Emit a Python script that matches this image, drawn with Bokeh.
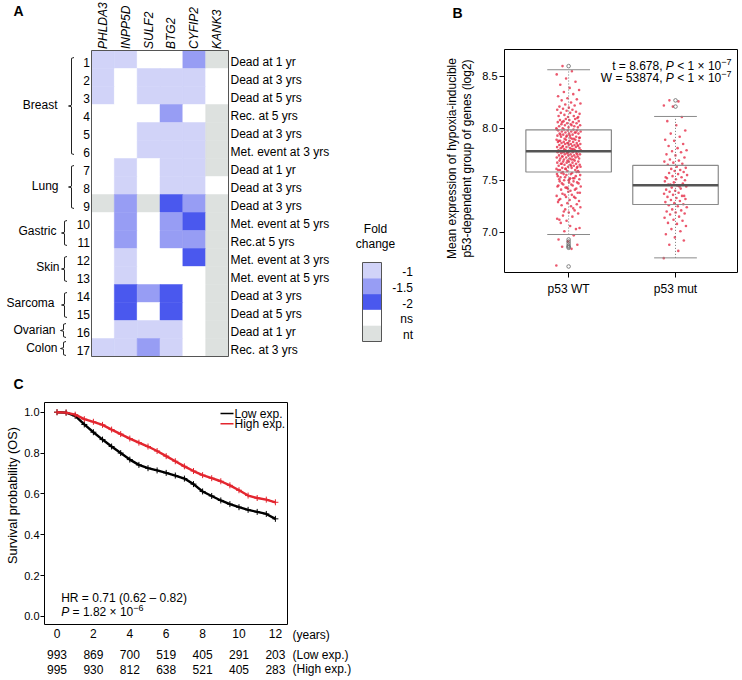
import math
from bokeh.plotting import figure
from bokeh.models import Range1d, Label, FixedTicker, NumeralTickFormatter, LinearAxis
from bokeh.layouts import row, column
from bokeh.embed import file_html
from bokeh.resources import INLINE
from bokeh.core.properties import value

FONT = "Liberation Sans"

# ---------------- Panel A data ----------------
genes = ["PHLDA3", "INPP5D", "SULF2", "BTG2", "CYFIP2", "KANK3"]
row_ids = ["1", "2", "3", "4", "5", "6", "7", "8", "9", "10", "11", "12", "13", "14", "15", "16", "17"]
outcomes = ["Dead at 1 yr", "Dead at 3 yrs", "Dead at 5 yrs", "Rec. at 5 yrs", "Dead at 3 yrs",
            "Met. event at 3 yrs", "Dead at 1 yr", "Dead at 3 yrs", "Dead at 3 yrs",
            "Met. event at 5 yrs", "Rec.at 5 yrs", "Met. event at 3 yrs", "Met. event at 5 yrs",
            "Dead at 3 yrs", "Dead at 5 yrs", "Dead at 1 yr", "Rec. at 3 yrs"]
cancer_groups = ["Breast", "Lung", "Gastric", "Skin", "Sarcoma", "Ovarian", "Colon"]
group_sizes = [6, 3, 2, 2, 2, 1, 1]
fold_change = [
    ["-1", "-1", "ns", "ns", "-1.5", "nt"],
    ["-1", "ns", "-1", "-1", "-1", "ns"],
    ["-1", "ns", "-1", "-1", "-1", "ns"],
    ["ns", "ns", "ns", "-1.5", "ns", "nt"],
    ["ns", "ns", "-1", "-1", "-1", "nt"],
    ["ns", "ns", "-1", "-1", "-1", "nt"],
    ["ns", "-1", "ns", "-1", "-1", "nt"],
    ["ns", "-1", "ns", "-1", "-1", "ns"],
    ["nt", "-1.5", "nt", "-2", "-1.5", "nt"],
    ["ns", "-1.5", "ns", "-1.5", "-2", "nt"],
    ["ns", "-1.5", "ns", "-1.5", "-1.5", "nt"],
    ["ns", "-1", "ns", "ns", "-2", "nt"],
    ["ns", "-1", "ns", "ns", "ns", "nt"],
    ["ns", "-2", "-1.5", "-2", "ns", "nt"],
    ["ns", "-2", "ns", "-2", "ns", "nt"],
    ["ns", "-1", "-1", "-1", "ns", "nt"],
    ["-1", "-1", "-1.5", "-1", "ns", "nt"],
]
fc_levels = ["-1", "-1.5", "-2", "ns", "nt"]
fc_colors = ["#d1d3f8", "#979df4", "#4a58ee", "#ffffff", "#dde1df"]

# ---------------- Panel B data ----------------
box_groups = ["p53 WT", "p53 mut"]
box_pos = [1, 2]
whisk_lo = [6.978, 6.753]
box_q1 = [7.580, 7.267]
box_med = [7.780, 7.453]
box_q3 = [7.986, 7.643]
whisk_hi = [8.565, 8.115]
wt_outliers = [8.60, 6.93, 6.91, 6.89, 6.87, 6.86, 6.85, 6.67]
mut_outliers = [8.27, 8.21]
wt_values = [
    6.68, 6.84, 6.86, 6.88, 6.91, 6.93, 6.97,
    7.01, 7.04, 7.06, 7.09, 7.03,
    7.11, 7.13, 7.15, 7.16, 7.18, 7.19, 7.12,
    7.21, 7.22, 7.24, 7.25, 7.26, 7.27, 7.28, 7.29, 7.23, 7.20,
    7.30, 7.31, 7.32, 7.33, 7.34, 7.35, 7.36, 7.37, 7.38, 7.39, 7.31, 7.34, 7.36, 7.38,
    7.40, 7.41, 7.42, 7.43, 7.44, 7.45, 7.46, 7.47, 7.48, 7.49, 7.41, 7.43, 7.44, 7.46,
    7.47, 7.48, 7.42, 7.45, 7.49,
    7.50, 7.51, 7.52, 7.53, 7.54, 7.55, 7.56, 7.57, 7.58, 7.59, 7.50, 7.51, 7.52, 7.53,
    7.55, 7.56, 7.57, 7.58, 7.59, 7.54, 7.52, 7.56, 7.58, 7.51,
    7.60, 7.60, 7.61, 7.61, 7.62, 7.62, 7.63, 7.63, 7.64, 7.64, 7.65, 7.65, 7.65, 7.66,
    7.66, 7.67, 7.67, 7.67, 7.68, 7.68, 7.68, 7.69, 7.69, 7.61, 7.63, 7.64, 7.66, 7.62,
    7.69, 7.60,
    7.70, 7.70, 7.71, 7.71, 7.71, 7.72, 7.72, 7.72, 7.73, 7.73, 7.73, 7.74, 7.74, 7.74,
    7.75, 7.75, 7.75, 7.76, 7.76, 7.76, 7.77, 7.77, 7.77, 7.78, 7.78, 7.78, 7.79, 7.79,
    7.79, 7.70, 7.73, 7.75, 7.77, 7.79,
    7.80, 7.80, 7.81, 7.81, 7.81, 7.82, 7.82, 7.82, 7.83, 7.83, 7.83, 7.84, 7.84, 7.84,
    7.85, 7.85, 7.85, 7.86, 7.86, 7.86, 7.87, 7.87, 7.87, 7.88, 7.88, 7.88, 7.89, 7.89,
    7.89, 7.80, 7.82, 7.84, 7.86, 7.88,
    7.90, 7.90, 7.91, 7.91, 7.92, 7.92, 7.93, 7.93, 7.94, 7.94, 7.95, 7.95, 7.95, 7.96,
    7.96, 7.97, 7.97, 7.97, 7.98, 7.98, 7.98, 7.99, 7.99, 7.91, 7.93, 7.94, 7.96, 7.92,
    7.99, 7.90,
    8.00, 8.01, 8.01, 8.02, 8.02, 8.03, 8.03, 8.04, 8.04, 8.05, 8.05, 8.06, 8.06, 8.07,
    8.07, 8.08, 8.08, 8.09, 8.09, 8.00, 8.03, 8.06,
    8.10, 8.11, 8.12, 8.12, 8.13, 8.14, 8.15, 8.15, 8.16, 8.17, 8.18, 8.18, 8.19, 8.11,
    8.20, 8.21, 8.22, 8.23, 8.24, 8.25, 8.27, 8.28, 8.29,
    8.31, 8.33, 8.35, 8.37, 8.39,
    8.42, 8.45, 8.48,
    8.52, 8.55, 8.60,
]
mut_values = [
    6.75, 6.82, 6.88, 6.92, 6.95, 6.98,
    7.01, 7.03, 7.06, 7.08, 7.09,
    7.11, 7.12, 7.14, 7.15, 7.17, 7.18, 7.19,
    7.20, 7.21, 7.22, 7.24, 7.25, 7.26, 7.27, 7.28, 7.29,
    7.30, 7.31, 7.32, 7.33, 7.34, 7.35, 7.36, 7.37, 7.38, 7.39, 7.35,
    7.40, 7.41, 7.42, 7.43, 7.44, 7.45, 7.46, 7.47, 7.48, 7.49, 7.44, 7.46,
    7.50, 7.51, 7.52, 7.53, 7.54, 7.55, 7.56, 7.57, 7.58, 7.59, 7.53,
    7.60, 7.61, 7.62, 7.63, 7.65, 7.66, 7.67, 7.68, 7.69,
    7.70, 7.72, 7.74, 7.75, 7.77, 7.78, 7.79,
    7.81, 7.83, 7.85, 7.88, 7.89,
    7.92, 7.95, 7.98,
    8.03, 8.07, 8.11,
    8.21, 8.22, 8.26, 8.27,
]
b_ticks = [7.0, 7.5, 8.0, 8.5]

# ---------------- Panel C data ----------------
km_years = [0.0, 0.5, 1.0, 1.5, 2.0, 2.5, 3.0, 3.5, 4.0, 4.5, 5.0, 5.5, 6.0,
            6.5, 7.0, 7.5, 8.0, 8.5, 9.0, 9.5, 10.0, 10.5, 11.0, 11.5, 12.0]
km_low = [1.000, 0.998, 0.982, 0.940, 0.902, 0.866, 0.832, 0.800, 0.768, 0.742, 0.726,
          0.715, 0.703, 0.690, 0.675, 0.648, 0.612, 0.590, 0.568, 0.550, 0.535, 0.522,
          0.512, 0.502, 0.478]
km_high = [1.000, 0.998, 0.988, 0.966, 0.953, 0.938, 0.915, 0.893, 0.871, 0.851, 0.832,
           0.810, 0.785, 0.760, 0.735, 0.712, 0.692, 0.677, 0.662, 0.642, 0.618, 0.592,
           0.580, 0.572, 0.559]
risk_years = [0, 2, 4, 6, 8, 10, 12]
risk_low = [993, 869, 700, 519, 405, 291, 203]
risk_high = [995, 930, 812, 638, 521, 405, 283]
series_names = ["Low exp.", "High exp."]
series_colors = ["#000000", "#e3262f"]
c_ticks = [0.0, 0.2, 0.4, 0.6, 0.8, 1.0]

# ---------------- helpers ----------------
AW = {' ': 278, '.': 278, ',': 278, '=': 584, '<': 584, '\u00d7': 584, '\u2212': 584,
      '\u2013': 556, '(': 333, ')': 333, 't': 278, 'W': 944, 'P': 667, 'H': 722, 'R': 722}


def tw(s, size):
    return sum(AW.get(ch, 556) for ch in s) * size / 1000.0


def add_label(p, x, y, text, size="12px", align="left", baseline="middle",
              style="normal", angle=0.0, color="black"):
    p.add_layout(Label(x=x, y=y, text=text, text_font=FONT, text_font_size=size,
                       text_align=align, text_baseline=baseline, text_font_style=style,
                       angle=angle, text_color=color))


def rich(p, conv, pieces, x_px, y_px, align="left"):
    total = sum(tw(t, s) for t, s, _, _ in pieces)
    x = x_px - total if align == "right" else x_px
    for t, s, it, r in pieces:
        lead = len(t) - len(t.lstrip(" "))
        core = t.strip(" ")
        if core:
            X, Y = conv(x + tw(t[:lead], s), y_px - r)
            add_label(p, X, Y, core, size=f"{s}px", style="italic" if it else "normal")
        x += tw(t, s)


def bare_figure(w, h, xr, yr):
    p = figure(width=w, height=h, x_range=xr, y_range=yr, x_axis_type=None,
               y_axis_type=None, toolbar_location=None, output_backend="svg", min_border=0)
    p.outline_line_color = None
    p.xgrid.visible = False
    p.ygrid.visible = False
    return p


def style_axis(axis, size, tick_out, standoff):
    axis.axis_line_color = None
    axis.major_tick_in = 0
    axis.major_tick_out = tick_out
    axis.minor_tick_line_color = None
    axis.major_tick_line_color = "black" if tick_out > 0 else None
    axis.major_label_text_font = FONT
    axis.major_label_text_font_size = size
    axis.major_label_text_color = "black"
    axis.major_label_standoff = standoff


# page layout (reference pixels): A = x 0..420, y 0..366 ; B = x 420..741 ; C = y 366..678
TOP_H, BOT_H = 366, 312
A_W, B_W = 420, 321

# ================= Panel A =================
CW = 137.0 / 6
RH = 18.0
HX0, HY0 = 91.0, 50.0


def ax(px):
    return (px - HX0) / CW - 0.5


def ay(py):
    return (py - HY0) / RH - 0.5


nrow, ncol = len(fold_change), len(genes)
pA = bare_figure(A_W, TOP_H, Range1d(ax(0), ax(A_W)), Range1d(ay(TOP_H), ay(0)))

color_of = dict(zip(fc_levels, fc_colors))
hx, hy, hc = [], [], []
for r, vals in enumerate(fold_change):
    for c, v in enumerate(vals):
        hx.append(c)
        hy.append(r)
        hc.append(color_of[v])
pA.rect(x=hx, y=hy, width=1, height=1, fill_color=hc, line_color=hc, line_width=0.5)
pA.rect(x=[(ncol - 1) / 2], y=[(nrow - 1) / 2], width=ncol, height=nrow,
        fill_color=None, line_color="#555555", line_width=1)

TXT = 2.5 / RH
pA.text(x=list(range(ncol)), y=[ay(48.5)] * ncol, text=genes, angle=math.pi / 2,
        text_align="left", text_baseline="middle", text_font=value(FONT),
        text_font_style="italic", text_font_size="12px", text_color="black")
pA.text(x=[ax(89.5)] * nrow, y=[r + TXT for r in range(nrow)], text=row_ids,
        text_align="right", text_baseline="middle", text_font=value(FONT),
        text_font_size="12px", text_color="black")
pA.text(x=[ax(230)] * nrow, y=[r + TXT for r in range(nrow)], text=outcomes,
        text_align="left", text_baseline="middle", text_font=value(FONT),
        text_font_size="12px", text_color="black")

bracket_px = [71, 71, 64, 64, 64, 63, 63]
glabel_px = [57, 58, 56, 59, 54, 55, 57]
starts = []
acc = 0
for n in group_sizes:
    starts.append(acc)
    acc += n
bxs, bys, gy = [], [], []
for g, (n, s) in enumerate(zip(group_sizes, starts)):
    top = HY0 + s * RH
    bot = HY0 + (s + n) * RH
    it, ib = (7, 4) if n >= 3 else ((8, 3) if n == 2 else (3, 1))
    t, b = top + it, bot - ib
    m = (t + b) / 2
    xv = bracket_px[g]
    px = [xv + 2.5, xv, xv, xv - 3, xv, xv, xv + 2.5]
    py = [t, t + 0.8, m - 0.8, m, m + 0.8, b - 0.8, b]
    bxs.append([ax(v) for v in px])
    bys.append([ay(v) for v in py])
    gy.append(ay((top + bot) / 2 + 0.5))
pA.multi_line(xs=bxs, ys=bys, line_color="#222222", line_width=1)
pA.text(x=[ax(v) for v in glabel_px], y=gy, text=cancer_groups, text_align="right",
        text_baseline="middle", text_font=value(FONT), text_font_size="12px",
        text_color="black")

LT, LH = 262.0, 15.8
lx, lw = ax(371.5), 19.0 / CW
pA.rect(x=[lx] * len(fc_levels), y=[ay(LT + (k + 0.5) * LH) for k in range(len(fc_levels))],
        width=lw, height=LH / RH, fill_color=fc_colors, line_color=None)
pA.rect(x=[lx], y=[ay(LT + len(fc_levels) * LH / 2)], width=lw,
        height=len(fc_levels) * LH / RH, fill_color=None, line_color="#555555", line_width=1)
pA.text(x=[ax(412.5)] * len(fc_levels),
        y=[ay(LT + (k + 0.5) * LH + 1) for k in range(len(fc_levels))], text=fc_levels,
        text_align="right", text_baseline="middle", text_font=value(FONT),
        text_font_size="12px", text_color="black")
add_label(pA, ax(375), ay(228.5), "Fold", align="center")
add_label(pA, ax(375), ay(243.5), "change", align="center")
add_label(pA, ax(13), ay(10), "A", size="14px", style="bold")

# ================= Panel B =================
BX0, BX1, BY0, BY1 = 0.40, 2.58, 6.612, 8.76
BFL, BFR, BFT, BFB = 504.0, 737.0, 49.0, 272.0
BKX = (BX1 - BX0) / (BFR - BFL)
BKY = (BY1 - BY0) / (BFB - BFT)


def bconv(px, py):
    return (BX0 + (px - BFL) * BKX, BY1 - (py - BFT) * BKY)


pB = bare_figure(B_W, TOP_H, Range1d(bconv(A_W, 0)[0], bconv(A_W + B_W, 0)[0]),
                 Range1d(bconv(0, TOP_H)[1], bconv(0, 0)[1]))
yaxB = LinearAxis(fixed_location=BX0, ticker=FixedTicker(ticks=b_ticks),
                  formatter=NumeralTickFormatter(format="0.0"))
style_axis(yaxB, "11px", 5, 2)
pB.add_layout(yaxB, "left")
xaxB = LinearAxis(fixed_location=BY0, ticker=FixedTicker(ticks=box_pos))
xaxB.major_label_overrides = {p: g for p, g in zip(box_pos, box_groups)}
style_axis(xaxB, "12px", 5, 4)
pB.add_layout(xaxB, "below")


def jitter(n, half):
    return [((i * 0.6180339887) % 1.0 - 0.5) * 2 * half for i in range(n)]


dx = [box_pos[0] + j for j in jitter(len(wt_values), 0.115)] + \
     [box_pos[1] + j for j in jitter(len(mut_values), 0.11)]
dy = wt_values + mut_values
pB.scatter(x=dx, y=dy, marker="circle", size=2.6, fill_color="#e6304a",
           line_color=None, fill_alpha=0.8)
pB.segment(x0=box_pos, y0=whisk_lo, x1=box_pos, y1=whisk_hi, line_color="#777777",
           line_dash="1 2", line_width=1)
pB.quad(left=[p - 0.4 for p in box_pos], right=[p + 0.4 for p in box_pos],
        bottom=box_q1, top=box_q3, fill_color=None, line_color="#8a8a8a", line_width=1.2)
pB.segment(x0=[p - 0.4 for p in box_pos], y0=box_med, x1=[p + 0.4 for p in box_pos],
           y1=box_med, line_color="#555555", line_width=2.5)
pB.segment(x0=[p - 0.2 for p in box_pos] * 2, y0=whisk_lo + whisk_hi,
           x1=[p + 0.2 for p in box_pos] * 2, y1=whisk_lo + whisk_hi,
           line_color="#8a8a8a", line_width=1)
pB.scatter(x=[box_pos[0]] * len(wt_outliers) + [box_pos[1]] * len(mut_outliers),
           y=wt_outliers + mut_outliers, marker="circle", size=3.6, fill_color=None,
           line_color="#666666", line_width=0.8)
pB.quad(left=[BX0], right=[BX1], bottom=[BY0], top=[BY1], fill_color=None,
        line_color="black", line_width=1)

X, Y = bconv(452, 12)
add_label(pB, X, Y, "B", size="14px", style="bold")
X, Y = bconv(451, 158)
add_label(pB, X, Y, "Mean expression of hypoxia-inducible", align="center", angle=math.pi / 2)
X, Y = bconv(466, 158)
add_label(pB, X, Y, "p53-dependent group of genes (log2)", align="center", angle=math.pi / 2)
rich(pB, bconv, [("t = 8.678, ", 12, False, 0), ("P", 12, True, 0),
                 (" < 1 \u00d7 10", 12, False, 0), ("\u22127", 9, False, 4)],
     731, 65, align="right")
rich(pB, bconv, [("W = 53874, ", 12, False, 0), ("P", 12, True, 0),
                 (" < 1 \u00d7 10", 12, False, 0), ("\u22127", 9, False, 4)],
     731, 77.5, align="right")

# ================= Panel C =================
CX0, CX1, CY0, CY1 = -0.687, 12.665, -0.0392, 1.0475
CFL, CFR, CFT, CFB = 44.0, 287.0, 402.0, 624.0
CKX = (CX1 - CX0) / (CFR - CFL)
CKY = (CY1 - CY0) / (CFB - CFT)


def cconv(px, py):
    return (CX0 + (px - CFL) * CKX, CY1 - (py - CFT) * CKY)


pC = bare_figure(A_W, BOT_H, Range1d(cconv(0, 0)[0], cconv(A_W, 0)[0]),
                 Range1d(cconv(0, TOP_H + BOT_H)[1], cconv(0, TOP_H)[1]))
yaxC = LinearAxis(fixed_location=CX0, ticker=FixedTicker(ticks=c_ticks),
                  formatter=NumeralTickFormatter(format="0.0"))
style_axis(yaxC, "11px", 4, 1)
pC.add_layout(yaxC, "left")
xaxC = LinearAxis(fixed_location=CY0, ticker=FixedTicker(ticks=risk_years))
style_axis(xaxC, "12px", 0, 4)
pC.add_layout(xaxC, "below")

for surv, col in zip([km_low, km_high], series_colors):
    pC.line(x=km_years, y=surv, line_color=col, line_width=2.4)
    pC.scatter(x=km_years, y=surv, marker="cross", size=6, line_color=col, line_width=1)
pC.quad(left=[CX0], right=[CX1], bottom=[CY0], top=[CY1], fill_color=None,
        line_color="black", line_width=1)

for k, (name, col) in enumerate(zip(series_names, series_colors)):
    ly = 413.0 + 10.3 * k
    x0, y0 = cconv(220, ly)
    x1, _ = cconv(233, ly)
    pC.segment(x0=[x0], y0=[y0], x1=[x1], y1=[y0], line_color=col, line_width=1.5)
    X, Y = cconv(234, ly)
    add_label(pC, X, Y, name)

X, Y = cconv(60.7, 597.7)
add_label(pC, X, Y, "HR = 0.71 (0.62 \u2013 0.82)")
rich(pC, cconv, [("P", 12, True, 0), (" = 1.82 \u00d7 10", 12, False, 0),
                 ("\u22126", 9, False, 4)], 60.7, 611)

X, Y = cconv(12, 495)
add_label(pC, X, Y, "Survival probability (OS)", size="12.7px", align="center",
          angle=math.pi / 2)
X, Y = cconv(292, 634.5)
add_label(pC, X, Y, "(years)")
_, yl = cconv(0, 654.3)
_, yh = cconv(0, 668.7)
pC.text(x=risk_years, y=[yl] * len(risk_years), text=[str(v) for v in risk_low],
        text_align="center", text_baseline="middle", text_font=value(FONT),
        text_font_size="12px", text_color="black")
pC.text(x=risk_years, y=[yh] * len(risk_years), text=[str(v) for v in risk_high],
        text_align="center", text_baseline="middle", text_font=value(FONT),
        text_font_size="12px", text_color="black")
X, _ = cconv(292, 0)
add_label(pC, X, yl, "(Low exp.)")
add_label(pC, X, yh, "(High exp.)")
X, Y = cconv(13, 383)
add_label(pC, X, Y, "C", size="14px", style="bold")

layout = column(row(pA, pB), pC)
open("out.html", "w").write(file_html(layout, INLINE))
